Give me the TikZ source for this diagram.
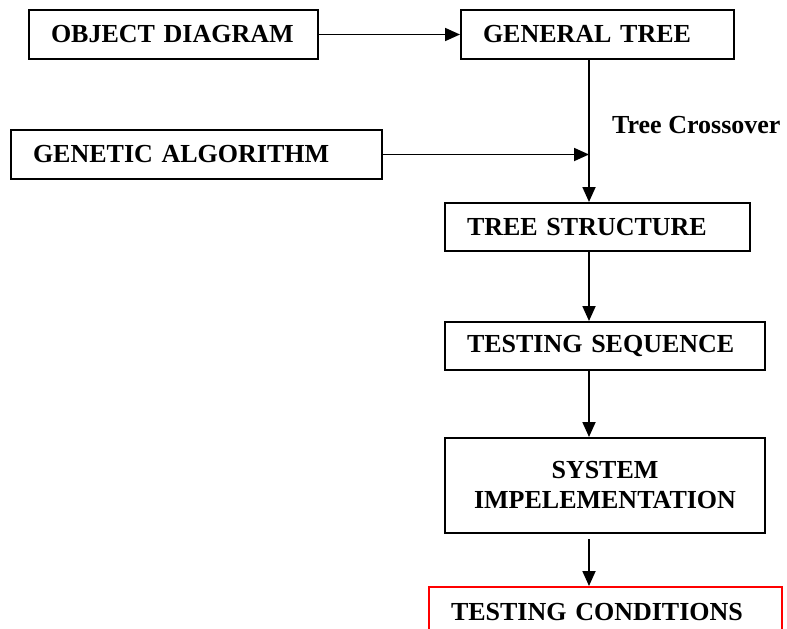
\documentclass[tikz,border=0pt]{standalone}
\usepackage{fontspec}
\setmainfont{Liberation Serif}
\usetikzlibrary{arrows.meta}
\tikzset{
  box/.style={draw, line width=2pt, rectangle, inner xsep=22pt, inner ysep=0pt,
    font=\fontsize{26}{30}\selectfont\bfseries, align=left, anchor=north west},
  flow/.style={line width=1.8pt, -{Triangle[length=15pt,width=13pt]}},
  plain/.style={line width=1.8pt},
  lbl/.style={font=\fontsize{26}{30}\selectfont\bfseries, anchor=west, inner sep=0pt}
}
\begin{document}
\begin{tikzpicture}[x=1pt,y=-1pt]
  \useasboundingbox (0,0) rectangle (787,629);
  \begin{scope}
    \clip (0,0) rectangle (787,629);
    % boxes of the flow
    \node[box, minimum width=289pt, minimum height=49pt, text width=245pt] (obj) at (28,9) {OBJECT DIAGRAM};
    \node[box, minimum width=273pt, minimum height=49pt, text width=229pt] (gen) at (460,9) {GENERAL TREE};
    \node[box, minimum width=371pt, minimum height=49pt, text width=327pt] (ga) at (10,129) {GENETIC ALGORITHM};
    \node[box, minimum width=305pt, minimum height=48pt, text width=261pt] (ts) at (444,202) {TREE STRUCTURE};
    \node[box, minimum width=320pt, minimum height=48pt, text width=276pt] (seq) at (444,321) {TESTING SEQUENCE};
    \node[box, minimum width=320pt, minimum height=95pt, text width=276pt, align=center] (sys) at (444,437) {SYSTEM\\IMPELEMENTATION};
    \node[box, draw=red, minimum width=353pt, minimum height=50pt, text width=309pt] (cond) at (428,586) {TESTING CONDITIONS};
    \node[lbl] (cross) at (612,125) {Tree Crossover};

    % connectors along the vertical spine
    \coordinate (spine) at (589,0);
    \draw[flow] (obj.east) -- (gen.west);
    \draw[plain] (gen.south -| spine) -- (ga.east -| spine) coordinate (join);
    \draw[flow] (ga.east) -- (join);
    \draw[flow] (join) -- (ts.north -| spine);
    \draw[flow] (ts.south -| spine) -- (seq.north -| spine);
    \draw[flow] (seq.south -| spine) -- (sys.north -| spine);
    \draw[flow, shorten <=5pt] (sys.south -| spine) -- (cond.north -| spine);
  \end{scope}
\end{tikzpicture}
\end{document}
